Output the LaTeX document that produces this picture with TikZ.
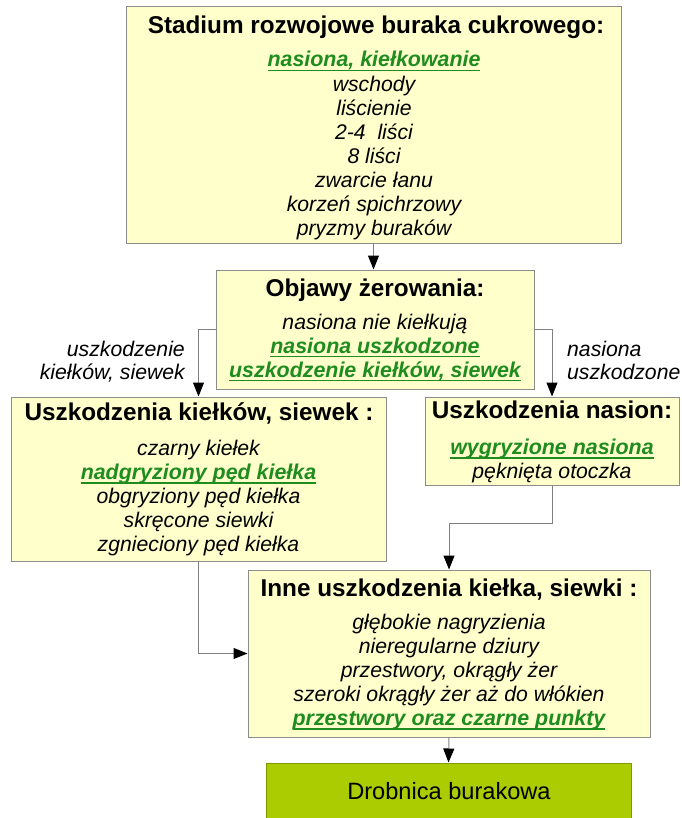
\documentclass[tikz,border=0pt]{standalone}
\usepackage{fontspec}
\setmainfont{Liberation Sans}
\usetikzlibrary{arrows.meta}
\definecolor{boxfill}{HTML}{FFFFCC}
\definecolor{boxline}{HTML}{8C8C8C}
\definecolor{gtxt}{HTML}{1E8C1E}
\definecolor{limefill}{HTML}{AACC00}
\definecolor{limeline}{HTML}{7F9900}
\definecolor{conn}{HTML}{808080}
\tikzset{
  box/.style={draw=boxline, fill=boxfill, line width=1pt, inner sep=0pt},
  ttl/.style={font=\bfseries\fontsize{24.3}{28}\selectfont, anchor=base, inner sep=0pt},
  itm/.style={font=\itshape\fontsize{21.2}{24}\selectfont, anchor=base, inner sep=0pt},
  grn/.style={font=\bfseries\itshape\fontsize{21.4}{24}\selectfont, text=gtxt, anchor=base, inner sep=0pt},
  lbl/.style={font=\itshape\fontsize{21.2}{24}\selectfont, inner sep=0pt},
  arr/.style={draw=conn, line width=1pt, -{Triangle[length=14pt,width=11pt,fill=black,color=black]}}
}
\newcommand{\ul}[1]{\setbox0\hbox{#1}\rlap{\rule[-4pt]{\wd0}{1.4pt}}\box0}
\begin{document}
\begin{tikzpicture}[x=1pt,y=-1pt]
\useasboundingbox (0,0) rectangle (681,818);
% boxes
\node[box, minimum width=495pt, minimum height=236pt] (b1) at (373.5,125) {};
\node[box, minimum width=318pt, minimum height=119pt] (b2) at (375,329.5) {};
\node[box, minimum width=375pt, minimum height=164pt] (b3) at (198.5,479) {};
\node[box, minimum width=254pt, minimum height=88pt] (b4) at (552,441) {};
\node[box, minimum width=402pt, minimum height=167pt] (b5) at (449,653.5) {};
\node[draw=limeline, fill=limefill, line width=1pt, minimum width=365pt, minimum height=70pt] (b6) at (448.5,798) {};
% box 1 text
\node[ttl] (t1) at (376,34) {Stadium rozwojowe buraka cukrowego:};
\node[grn] (t1a) at (374,67) {\ul{nasiona, kiełkowanie}};
\node[itm] (t1b) at (374,91.5) {wschody};
\node[itm] (t1c) at (374,115.5) {liścienie};
\node[itm] (t1d) at (374,139.5) {2-4\ \ liści};
\node[itm] (t1e) at (374,163.5) {8 liści};
\node[itm] (t1f) at (374,187.5) {zwarcie łanu};
\node[itm] (t1g) at (374,211.5) {korzeń spichrzowy};
\node[itm] (t1h) at (374,235.5) {pryzmy buraków};
% box 2 text
\node[ttl] (t2) at (375,296) {Objawy żerowania:};
\node[itm] (t2a) at (375,329) {nasiona nie kiełkują};
\node[grn] (t2b) at (375,353) {\ul{nasiona uszkodzone}};
\node[grn] (t2c) at (375,377) {\ul{uszkodzenie kiełków, siewek}};
% box 3 text
\node[ttl] (t3) at (199,420) {Uszkodzenia kiełków, siewek :};
\node[itm] (t3a) at (198.5,455.5) {czarny kiełek};
\node[grn] (t3b) at (198.5,479.5) {\ul{nadgryziony pęd kiełka}};
\node[itm] (t3c) at (198.5,503.5) {obgryziony pęd kiełka};
\node[itm] (t3d) at (198.5,527.5) {skręcone siewki};
\node[itm] (t3e) at (198.5,551.5) {zgnieciony pęd kiełka};
% box 4 text
\node[ttl] (t4) at (552,418) {Uszkodzenia nasion:};
\node[grn] (t4a) at (552,454.5) {\ul{wygryzione nasiona}};
\node[itm] (t4b) at (552,478.5) {pęknięta otoczka};
% box 5 text
\node[ttl] (t5) at (449,596) {Inne uszkodzenia kiełka, siewki :};
\node[itm] (t5a) at (449,629.5) {głębokie nagryzienia};
\node[itm] (t5b) at (449,653.5) {nieregularne dziury};
\node[itm] (t5c) at (449,677.5) {przestwory, okrągły żer};
\node[itm] (t5d) at (449,701.5) {szeroki okrągły żer aż do włókien};
\node[grn] (t5e) at (449,725.5) {\ul{przestwory oraz czarne punkty}};
% box 6 text
\node[font=\fontsize{23.6}{27}\selectfont, anchor=base, inner sep=0pt] (t6) at (449,799) {Drobnica burakowa};
% side labels
\node[lbl, anchor=base east] (l1) at (185,356) {uszkodzenie};
\node[lbl, anchor=base east] (l2) at (185,379) {kiełków, siewek};
\node[lbl, anchor=base west] (r1) at (567,356) {nasiona};
\node[lbl, anchor=base west] (r2) at (567,379) {uszkodzone};
% connectors
\draw[arr] (b1.south) -- (b1.south |- b2.north);
\draw[arr] (b2.west) -| (b3.north);
\draw[arr] (b2.east) -| (b4.north);
\draw[arr] (b4.south) -- ++(0,38) -| (b5.north);
\draw[arr] (b3.south) |- (b5.west);
\draw[arr] (b5.south) -- (b6.north);
\end{tikzpicture}
\end{document}
